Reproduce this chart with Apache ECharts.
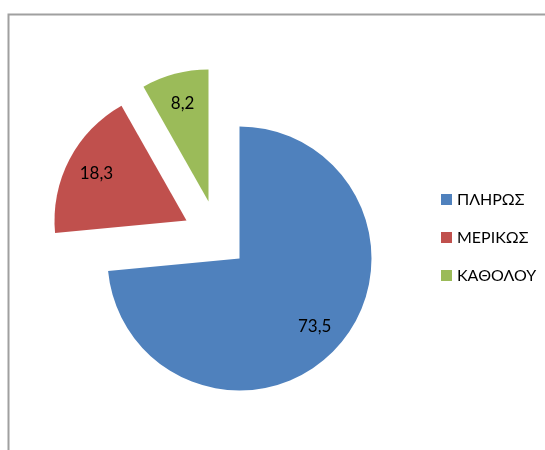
<!DOCTYPE html>
<html>
<head>
<meta charset="utf-8">
<script src="https://cdn.jsdelivr.net/npm/echarts@6/dist/echarts.min.js"></script>
<style>
html,body{margin:0;padding:0;background:#fff;}
#chart{width:545px;height:450px;}
</style>
</head>
<body>
<div id="chart"></div>
<script>
const categories = ['ΠΛΗΡΩΣ', 'ΜΕΡΙΚΩΣ', 'ΚΑΘΟΛΟΥ'];
const values = [73.5, 18.3, 8.2];
const colors = ['#4F81BD', '#C0504D', '#9BBB59'];
// explosion shift of each slice (px), as drawn in the original
const explodeShift = [[0, 0], [-53, -38], [-31, -57]];

const FONT = 'Lato, "Liberation Sans", sans-serif';
const CX = 239.5, CY = 258.5, R = 132;
const labelFactor = 0.77;

const total = values.reduce((a, b) => a + b, 0);

function labelOffset(i) {
  let cum = 0;
  for (let k = 0; k < i; k++) cum += values[k];
  const frac = (cum + values[i] / 2) / total;
  const th = Math.PI / 2 - 2 * Math.PI * frac;
  const shift = (labelFactor - 0.5) * R - 3;
  return [Math.cos(th) * shift, -Math.sin(th) * shift];
}

const series = categories.map((cat, i) => ({
  type: 'pie',
  center: [CX + explodeShift[i][0], CY + explodeShift[i][1]],
  radius: R,
  startAngle: 90,
  clockwise: true,
  avoidLabelOverlap: false,
  label: {
    show: true,
    position: 'inside',
    formatter: p => String(p.value).replace('.', ','),
    fontFamily: FONT,
    fontSize: 17,
    color: '#000'
  },
  labelLine: { show: false },
  emphasis: { disabled: true },
  data: values.map((v, j) => j === i ? {
    name: cat,
    value: v,
    itemStyle: { color: colors[j] },
    label: { offset: labelOffset(j) }
  } : {
    name: '',
    value: v,
    itemStyle: { color: 'rgba(0,0,0,0)' },
    label: { show: false }
  })
}));

const chart = echarts.init(document.getElementById('chart'), null, { renderer: 'canvas' });
chart.setOption({
  animation: false,
  backgroundColor: '#fff',
  graphic: [{
    type: 'rect',
    shape: { x: 8.5, y: 14.5, width: 700, height: 600 },
    style: { fill: null, stroke: '#a0a0a0', lineWidth: 2 },
    silent: true
  }],
  legend: {
    orient: 'vertical',
    left: 436,
    top: 186,
    itemWidth: 11,
    itemHeight: 11,
    itemGap: 21,
    icon: 'rect',
    selectedMode: false,
    textStyle: { fontFamily: FONT, fontSize: 16, color: '#000', lineHeight: 17 },
    data: categories
  },
  series: series
});
</script>
</body>
</html>
